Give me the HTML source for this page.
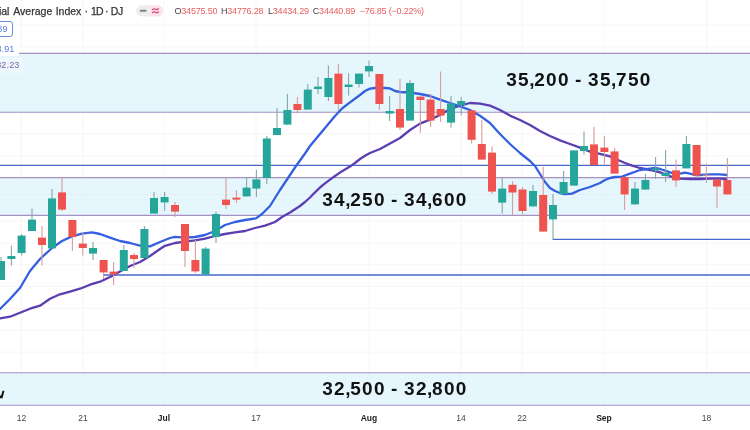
<!DOCTYPE html>
<html><head><meta charset="utf-8"><title>chart</title>
<style>
html,body{margin:0;padding:0;background:#fff;}
body{width:750px;height:430px;overflow:hidden;position:relative;font-family:"Liberation Sans",sans-serif;}
#c{position:absolute;left:0;top:0;width:750px;height:430px;overflow:hidden;background:#fff;}
#f{position:absolute;left:-10px;top:-10px;width:770px;height:450px;filter:blur(0.45px);}
#g{position:absolute;left:10px;top:10px;width:750px;height:430px;}
.t{position:absolute;white-space:nowrap;line-height:1;}
.w{position:absolute;top:0;}
.big{font-weight:bold;font-size:19px;color:#111;}
.big span{display:inline-block;text-align:center;}
.big .d{width:11.85px;} .big .cm{width:4.4px;} .big .ds{width:18.3px;}
.ax{font-size:8.5px;color:#444;transform:translateX(-50%);top:414px;}
.axb{font-weight:bold;color:#222;}
.hd{font-size:9px;top:6.5px;color:#e8605f;letter-spacing:-0.2px;}
.hd b{font-weight:normal;color:#444;}
</style></head><body><div id="c"><div id="f"><div id="g">
<svg width="750" height="430" viewBox="0 0 750 430" style="position:absolute;left:0;top:0;overflow:visible">
<line x1="-10" x2="760" y1="25.0" y2="25.0" stroke="#f5f6f8" stroke-width="1"/>
<line x1="-10" x2="760" y1="46.8" y2="46.8" stroke="#f5f6f8" stroke-width="1"/>
<line x1="-10" x2="760" y1="68.6" y2="68.6" stroke="#f5f6f8" stroke-width="1"/>
<line x1="-10" x2="760" y1="90.4" y2="90.4" stroke="#f5f6f8" stroke-width="1"/>
<line x1="-10" x2="760" y1="112.2" y2="112.2" stroke="#f5f6f8" stroke-width="1"/>
<line x1="-10" x2="760" y1="134.0" y2="134.0" stroke="#f5f6f8" stroke-width="1"/>
<line x1="-10" x2="760" y1="155.8" y2="155.8" stroke="#f5f6f8" stroke-width="1"/>
<line x1="-10" x2="760" y1="177.6" y2="177.6" stroke="#f5f6f8" stroke-width="1"/>
<line x1="-10" x2="760" y1="199.4" y2="199.4" stroke="#f5f6f8" stroke-width="1"/>
<line x1="-10" x2="760" y1="221.2" y2="221.2" stroke="#f5f6f8" stroke-width="1"/>
<line x1="-10" x2="760" y1="243.0" y2="243.0" stroke="#f5f6f8" stroke-width="1"/>
<line x1="-10" x2="760" y1="264.8" y2="264.8" stroke="#f5f6f8" stroke-width="1"/>
<line x1="-10" x2="760" y1="286.6" y2="286.6" stroke="#f5f6f8" stroke-width="1"/>
<line x1="-10" x2="760" y1="308.4" y2="308.4" stroke="#f5f6f8" stroke-width="1"/>
<line x1="-10" x2="760" y1="330.2" y2="330.2" stroke="#f5f6f8" stroke-width="1"/>
<line x1="-10" x2="760" y1="352.0" y2="352.0" stroke="#f5f6f8" stroke-width="1"/>
<line x1="-10" x2="760" y1="373.8" y2="373.8" stroke="#f5f6f8" stroke-width="1"/>
<line x1="-10" x2="760" y1="395.6" y2="395.6" stroke="#f5f6f8" stroke-width="1"/>
<line x1="21.5" x2="21.5" y1="0" y2="408" stroke="#f5f6f8" stroke-width="1"/>
<line x1="83" x2="83" y1="0" y2="408" stroke="#f5f6f8" stroke-width="1"/>
<line x1="164" x2="164" y1="0" y2="408" stroke="#f5f6f8" stroke-width="1"/>
<line x1="256" x2="256" y1="0" y2="408" stroke="#f5f6f8" stroke-width="1"/>
<line x1="369" x2="369" y1="0" y2="408" stroke="#f5f6f8" stroke-width="1"/>
<line x1="461" x2="461" y1="0" y2="408" stroke="#f5f6f8" stroke-width="1"/>
<line x1="522" x2="522" y1="0" y2="408" stroke="#f5f6f8" stroke-width="1"/>
<line x1="604" x2="604" y1="0" y2="408" stroke="#f5f6f8" stroke-width="1"/>
<line x1="706.5" x2="706.5" y1="0" y2="408" stroke="#f5f6f8" stroke-width="1"/>
<rect x="-10" y="53.4" width="770" height="58.9" fill="#e2f6fc" fill-opacity="0.9"/>
<rect x="-10" y="177.6" width="770" height="37.80000000000001" fill="#e2f6fc" fill-opacity="0.9"/>
<rect x="-10" y="372.8" width="770" height="32.39999999999998" fill="#e2f6fc" fill-opacity="0.9"/>
<line x1="-10" x2="760" y1="53.4" y2="53.4" stroke="#a791c4" stroke-width="1.1"/>
<line x1="-10" x2="760" y1="112.3" y2="112.3" stroke="#a791c4" stroke-width="1.1"/>
<line x1="-10" x2="760" y1="177.6" y2="177.6" stroke="#a791c4" stroke-width="1.1"/>
<line x1="-10" x2="760" y1="215.4" y2="215.4" stroke="#a791c4" stroke-width="1.1"/>
<line x1="-10" x2="760" y1="372.8" y2="372.8" stroke="#a791c4" stroke-width="1.1"/>
<line x1="-10" x2="760" y1="405.2" y2="405.2" stroke="#a791c4" stroke-width="1.1"/>
<line x1="-10" x2="760" y1="194.4" y2="194.4" stroke="#e4d3d6" stroke-width="0.7" stroke-dasharray="1 1.5"/>
<line x1="-10" x2="760" y1="165.4" y2="165.4" stroke="#4767cc" stroke-width="1.3"/>
<line x1="103" x2="760" y1="275" y2="275" stroke="#4767cc" stroke-width="1.3"/>
<path d="M552.6,239.4 L760,239.4" fill="none" stroke="#4767cc" stroke-width="1.3"/>
<path d="M0.0,318.3 L10.0,316.7 L20.0,312.7 L30.0,308.7 L40.0,305.7 L50.0,298.7 L60.0,294.3 L70.0,291.7 L80.0,288.7 L90.0,284.7 L100.0,281.7 L110.0,277.0 L120.0,271.6 L130.0,266.0 L140.0,262.0 L150.0,256.0 L160.0,249.0 L165.0,245.8 L175.0,243.0 L185.0,241.6 L195.0,240.4 L205.0,238.6 L215.0,236.0 L225.0,234.0 L235.0,232.4 L245.0,231.0 L255.0,228.0 L265.0,225.6 L275.0,222.0 L282.0,217.0 L290.0,212.5 L300.0,206.0 L305.0,202.0 L310.0,197.5 L315.0,192.3 L320.0,187.5 L325.0,183.4 L330.0,179.6 L335.0,176.0 L340.0,172.6 L345.0,169.6 L350.0,166.6 L355.0,163.0 L360.0,159.0 L365.0,155.8 L370.0,153.0 L380.0,149.0 L390.0,143.5 L400.0,138.0 L410.0,130.0 L420.0,123.6 L430.0,119.6 L440.0,115.0 L450.0,109.0 L460.0,105.6 L470.0,103.0 L480.0,103.6 L490.0,105.6 L500.0,110.0 L510.0,115.6 L520.0,120.0 L530.0,125.0 L540.0,131.0 L550.0,136.0 L560.0,140.4 L570.0,144.0 L580.0,147.6 L590.0,151.6 L600.0,153.8 L610.0,156.4 L618.0,160.0 L625.0,163.0 L632.0,165.6 L640.0,168.0 L650.0,170.0 L660.0,172.4 L670.0,176.0 L675.0,178.0 L680.0,178.6 L690.0,179.0 L700.0,179.0 L710.0,178.6 L720.0,178.6 L727.0,179.0" fill="none" stroke="#5c3db2" stroke-width="2.3" stroke-linejoin="round" stroke-linecap="round"/>
<path d="M0.0,309.0 L10.0,299.0 L20.0,288.0 L30.0,271.0 L40.0,259.0 L52.0,248.0 L62.0,241.0 L72.0,236.4 L82.0,233.6 L92.0,232.4 L100.0,234.0 L110.0,237.6 L120.0,241.0 L130.0,243.0 L140.0,245.6 L150.0,246.4 L160.0,242.0 L170.0,238.0 L175.0,236.8 L185.0,237.6 L195.0,237.0 L205.0,235.0 L215.0,231.0 L225.0,225.0 L235.0,222.0 L245.0,220.0 L256.0,218.4 L262.0,214.0 L268.0,208.0 L270.0,206.0 L275.0,198.0 L280.0,190.0 L285.0,182.5 L290.0,175.0 L296.0,166.0 L300.0,160.5 L305.0,153.5 L310.0,146.0 L315.0,140.0 L320.0,134.0 L325.0,128.0 L330.0,122.0 L335.0,116.0 L342.0,108.5 L350.0,102.4 L360.0,95.0 L365.0,91.0 L370.0,88.6 L375.0,88.0 L385.0,88.0 L390.0,88.4 L395.0,91.0 L400.0,92.0 L410.0,92.5 L420.0,94.0 L430.0,96.0 L440.0,99.6 L450.0,103.0 L460.0,106.4 L470.0,110.0 L480.0,115.8 L490.0,123.0 L500.0,134.0 L510.0,144.0 L520.0,153.0 L530.0,161.0 L535.0,166.0 L540.0,174.0 L545.0,182.0 L550.0,188.0 L555.0,191.0 L560.0,193.0 L565.0,194.0 L572.0,193.6 L580.0,190.0 L590.0,187.0 L600.0,183.0 L605.0,180.0 L610.0,178.0 L615.0,177.0 L622.0,176.6 L630.0,173.6 L640.0,170.0 L650.0,168.6 L655.0,168.0 L660.0,169.0 L665.0,170.6 L670.0,172.4 L675.0,173.6 L680.0,173.6 L685.0,172.6 L690.0,173.6 L695.0,175.0 L700.0,175.0 L710.0,174.4 L720.0,174.4 L727.0,175.0" fill="none" stroke="#3460e0" stroke-width="2.3" stroke-linejoin="round" stroke-linecap="round"/>
<line x1="1" x2="1" y1="257" y2="280" stroke="#84a8a5" stroke-width="1.1"/>
<rect x="-3.0" y="261" width="8.0" height="19.0" fill="#26a69a"/>
<line x1="11.4" x2="11.4" y1="245.6" y2="265.6" stroke="#84a8a5" stroke-width="1.1"/>
<rect x="7.4" y="256" width="8.0" height="3.0" fill="#26a69a"/>
<line x1="21.6" x2="21.6" y1="234" y2="255.6" stroke="#84a8a5" stroke-width="1.1"/>
<rect x="17.6" y="235.6" width="8.0" height="17.4" fill="#26a69a"/>
<line x1="32" x2="32" y1="208.4" y2="231" stroke="#84a8a5" stroke-width="1.1"/>
<rect x="28.0" y="219.6" width="8.0" height="11.4" fill="#26a69a"/>
<line x1="42" x2="42" y1="226" y2="265.6" stroke="#d99c9b" stroke-width="1.1"/>
<rect x="38.0" y="237.6" width="8.0" height="7.4" fill="#ef5350"/>
<line x1="52" x2="52" y1="189" y2="248.4" stroke="#84a8a5" stroke-width="1.1"/>
<rect x="48.0" y="198.4" width="8.0" height="50.0" fill="#26a69a"/>
<line x1="62" x2="62" y1="177.6" y2="211" stroke="#d99c9b" stroke-width="1.1"/>
<rect x="58.0" y="192.4" width="8.0" height="17.2" fill="#ef5350"/>
<line x1="72.4" x2="72.4" y1="220" y2="251" stroke="#d99c9b" stroke-width="1.1"/>
<rect x="68.4" y="220" width="8.0" height="17.0" fill="#ef5350"/>
<line x1="82.8" x2="82.8" y1="232" y2="255.6" stroke="#d99c9b" stroke-width="1.1"/>
<rect x="78.8" y="243.6" width="8.0" height="4.4" fill="#ef5350"/>
<line x1="93" x2="93" y1="242" y2="260" stroke="#84a8a5" stroke-width="1.1"/>
<rect x="89.0" y="248" width="8.0" height="5.6" fill="#26a69a"/>
<line x1="103.6" x2="103.6" y1="260" y2="279" stroke="#d99c9b" stroke-width="1.1"/>
<rect x="99.6" y="260" width="8.0" height="12.4" fill="#ef5350"/>
<line x1="113.6" x2="113.6" y1="262" y2="285" stroke="#d99c9b" stroke-width="1.1"/>
<rect x="109.6" y="271.6" width="8.0" height="2.8" fill="#ef5350"/>
<line x1="123.8" x2="123.8" y1="245" y2="271" stroke="#84a8a5" stroke-width="1.1"/>
<rect x="119.8" y="250" width="8.0" height="21.0" fill="#26a69a"/>
<line x1="134" x2="134" y1="253" y2="268" stroke="#d99c9b" stroke-width="1.1"/>
<rect x="130.0" y="255" width="8.0" height="4.0" fill="#ef5350"/>
<line x1="144.4" x2="144.4" y1="226" y2="258" stroke="#84a8a5" stroke-width="1.1"/>
<rect x="140.4" y="229" width="8.0" height="29.0" fill="#26a69a"/>
<line x1="154" x2="154" y1="192" y2="213.6" stroke="#84a8a5" stroke-width="1.1"/>
<rect x="150.0" y="198" width="8.0" height="15.6" fill="#26a69a"/>
<line x1="164.6" x2="164.6" y1="192" y2="211" stroke="#84a8a5" stroke-width="1.1"/>
<rect x="160.6" y="197" width="8.0" height="5.4" fill="#26a69a"/>
<line x1="175" x2="175" y1="202" y2="217" stroke="#d99c9b" stroke-width="1.1"/>
<rect x="171.0" y="205" width="8.0" height="6.6" fill="#ef5350"/>
<line x1="185" x2="185" y1="224" y2="267" stroke="#d99c9b" stroke-width="1.1"/>
<rect x="181.0" y="224" width="8.0" height="27.0" fill="#ef5350"/>
<line x1="195.4" x2="195.4" y1="240" y2="273" stroke="#d99c9b" stroke-width="1.1"/>
<rect x="191.4" y="260" width="8.0" height="11.4" fill="#ef5350"/>
<line x1="205.6" x2="205.6" y1="247" y2="274.4" stroke="#84a8a5" stroke-width="1.1"/>
<rect x="201.6" y="248.6" width="8.0" height="25.8" fill="#26a69a"/>
<line x1="216" x2="216" y1="211.6" y2="243" stroke="#84a8a5" stroke-width="1.1"/>
<rect x="212.0" y="214" width="8.0" height="23.0" fill="#26a69a"/>
<line x1="226" x2="226" y1="178" y2="209" stroke="#d99c9b" stroke-width="1.1"/>
<rect x="222.0" y="199.6" width="8.0" height="5.4" fill="#ef5350"/>
<line x1="236.4" x2="236.4" y1="190" y2="203" stroke="#d99c9b" stroke-width="1.1"/>
<rect x="232.4" y="197.6" width="8.0" height="2.0" fill="#ef5350"/>
<line x1="246.6" x2="246.6" y1="177.6" y2="196.4" stroke="#84a8a5" stroke-width="1.1"/>
<rect x="242.6" y="187.6" width="8.0" height="8.8" fill="#26a69a"/>
<line x1="256.4" x2="256.4" y1="170" y2="197" stroke="#84a8a5" stroke-width="1.1"/>
<rect x="252.4" y="179.4" width="8.0" height="9.2" fill="#26a69a"/>
<line x1="266.8" x2="266.8" y1="136" y2="184" stroke="#84a8a5" stroke-width="1.1"/>
<rect x="262.8" y="138.5" width="8.0" height="39.5" fill="#26a69a"/>
<line x1="277" x2="277" y1="108" y2="135" stroke="#84a8a5" stroke-width="1.1"/>
<rect x="273.0" y="128" width="8.0" height="7.0" fill="#26a69a"/>
<line x1="287.4" x2="287.4" y1="94" y2="124.6" stroke="#84a8a5" stroke-width="1.1"/>
<rect x="283.4" y="110" width="8.0" height="14.6" fill="#26a69a"/>
<line x1="297.4" x2="297.4" y1="97" y2="113.6" stroke="#d99c9b" stroke-width="1.1"/>
<rect x="293.4" y="104" width="8.0" height="6.0" fill="#ef5350"/>
<line x1="307.8" x2="307.8" y1="84" y2="109.6" stroke="#84a8a5" stroke-width="1.1"/>
<rect x="303.8" y="89.6" width="8.0" height="20.0" fill="#26a69a"/>
<line x1="318" x2="318" y1="77" y2="94" stroke="#84a8a5" stroke-width="1.1"/>
<rect x="314.0" y="86.6" width="8.0" height="2.4" fill="#26a69a"/>
<line x1="328.4" x2="328.4" y1="65.6" y2="101" stroke="#84a8a5" stroke-width="1.1"/>
<rect x="324.4" y="78" width="8.0" height="19.0" fill="#26a69a"/>
<line x1="338.4" x2="338.4" y1="64" y2="111" stroke="#d99c9b" stroke-width="1.1"/>
<rect x="334.4" y="73.6" width="8.0" height="30.4" fill="#ef5350"/>
<line x1="348.6" x2="348.6" y1="73" y2="95.6" stroke="#84a8a5" stroke-width="1.1"/>
<rect x="344.6" y="84.6" width="8.0" height="2.4" fill="#26a69a"/>
<line x1="359" x2="359" y1="73.6" y2="87.6" stroke="#84a8a5" stroke-width="1.1"/>
<rect x="355.0" y="73.6" width="8.0" height="10.4" fill="#26a69a"/>
<line x1="369" x2="369" y1="60.4" y2="77" stroke="#84a8a5" stroke-width="1.1"/>
<rect x="365.0" y="66" width="8.0" height="5.4" fill="#26a69a"/>
<line x1="379.4" x2="379.4" y1="74" y2="110" stroke="#d99c9b" stroke-width="1.1"/>
<rect x="375.4" y="74" width="8.0" height="30.0" fill="#ef5350"/>
<line x1="389.6" x2="389.6" y1="96" y2="121" stroke="#84a8a5" stroke-width="1.1"/>
<rect x="385.6" y="111" width="8.0" height="2.6" fill="#26a69a"/>
<line x1="400" x2="400" y1="79" y2="130" stroke="#d99c9b" stroke-width="1.1"/>
<rect x="396.0" y="109" width="8.0" height="18.6" fill="#ef5350"/>
<line x1="410" x2="410" y1="80" y2="120.6" stroke="#84a8a5" stroke-width="1.1"/>
<rect x="406.0" y="83" width="8.0" height="37.6" fill="#26a69a"/>
<line x1="420.4" x2="420.4" y1="96.6" y2="133" stroke="#d99c9b" stroke-width="1.1"/>
<rect x="416.4" y="96.6" width="8.0" height="3.4" fill="#ef5350"/>
<line x1="430.6" x2="430.6" y1="94" y2="127" stroke="#d99c9b" stroke-width="1.1"/>
<rect x="426.6" y="99.6" width="8.0" height="21.0" fill="#ef5350"/>
<line x1="440.6" x2="440.6" y1="71.6" y2="122" stroke="#d99c9b" stroke-width="1.1"/>
<rect x="436.6" y="109" width="8.0" height="6.6" fill="#ef5350"/>
<line x1="451" x2="451" y1="96" y2="127.6" stroke="#84a8a5" stroke-width="1.1"/>
<rect x="447.0" y="103.6" width="8.0" height="19.0" fill="#26a69a"/>
<line x1="461.2" x2="461.2" y1="97" y2="115.6" stroke="#84a8a5" stroke-width="1.1"/>
<rect x="457.2" y="101" width="8.0" height="4.0" fill="#26a69a"/>
<line x1="471.6" x2="471.6" y1="110.4" y2="143.5" stroke="#d99c9b" stroke-width="1.1"/>
<rect x="467.6" y="110.4" width="8.0" height="29.4" fill="#ef5350"/>
<line x1="481.8" x2="481.8" y1="120" y2="159.6" stroke="#d99c9b" stroke-width="1.1"/>
<rect x="477.8" y="144" width="8.0" height="15.6" fill="#ef5350"/>
<line x1="492" x2="492" y1="146.5" y2="194" stroke="#d99c9b" stroke-width="1.1"/>
<rect x="488.0" y="152.6" width="8.0" height="39.0" fill="#ef5350"/>
<line x1="502.2" x2="502.2" y1="178" y2="213.4" stroke="#84a8a5" stroke-width="1.1"/>
<rect x="498.2" y="188.6" width="8.0" height="14.0" fill="#26a69a"/>
<line x1="512.5" x2="512.5" y1="181" y2="215" stroke="#d99c9b" stroke-width="1.1"/>
<rect x="508.5" y="184.8" width="8.0" height="7.7" fill="#ef5350"/>
<line x1="522.5" x2="522.5" y1="187" y2="214.4" stroke="#d99c9b" stroke-width="1.1"/>
<rect x="518.5" y="189.5" width="8.0" height="21.5" fill="#ef5350"/>
<line x1="533" x2="533" y1="185" y2="206.4" stroke="#84a8a5" stroke-width="1.1"/>
<rect x="529.0" y="191" width="8.0" height="15.4" fill="#26a69a"/>
<line x1="543.2" x2="543.2" y1="167" y2="231.6" stroke="#d99c9b" stroke-width="1.1"/>
<rect x="539.2" y="195" width="8.0" height="36.6" fill="#ef5350"/>
<line x1="553" x2="553" y1="194" y2="239.4" stroke="#84a8a5" stroke-width="1.1"/>
<rect x="549.0" y="205" width="8.0" height="14.4" fill="#26a69a"/>
<line x1="563.6" x2="563.6" y1="171" y2="194" stroke="#84a8a5" stroke-width="1.1"/>
<rect x="559.6" y="182" width="8.0" height="12.0" fill="#26a69a"/>
<line x1="574" x2="574" y1="150.4" y2="185.6" stroke="#84a8a5" stroke-width="1.1"/>
<rect x="570.0" y="150.4" width="8.0" height="35.2" fill="#26a69a"/>
<line x1="584" x2="584" y1="131.6" y2="154.4" stroke="#84a8a5" stroke-width="1.1"/>
<rect x="580.0" y="146" width="8.0" height="5.0" fill="#26a69a"/>
<line x1="594" x2="594" y1="127" y2="165" stroke="#d99c9b" stroke-width="1.1"/>
<rect x="590.0" y="144.4" width="8.0" height="20.6" fill="#ef5350"/>
<line x1="604.4" x2="604.4" y1="136" y2="164" stroke="#d99c9b" stroke-width="1.1"/>
<rect x="600.4" y="147.6" width="8.0" height="4.4" fill="#ef5350"/>
<line x1="614.6" x2="614.6" y1="148" y2="173.6" stroke="#d99c9b" stroke-width="1.1"/>
<rect x="610.6" y="151.4" width="8.0" height="22.2" fill="#ef5350"/>
<line x1="624.6" x2="624.6" y1="177" y2="210" stroke="#d99c9b" stroke-width="1.1"/>
<rect x="620.6" y="177" width="8.0" height="17.4" fill="#ef5350"/>
<line x1="635" x2="635" y1="182" y2="204.4" stroke="#84a8a5" stroke-width="1.1"/>
<rect x="631.0" y="188.6" width="8.0" height="15.8" fill="#26a69a"/>
<line x1="645.4" x2="645.4" y1="174" y2="189.6" stroke="#84a8a5" stroke-width="1.1"/>
<rect x="641.4" y="180" width="8.0" height="9.6" fill="#26a69a"/>
<line x1="655.6" x2="655.6" y1="157" y2="179" stroke="#84a8a5" stroke-width="1.1"/>
<rect x="651.6" y="168.5" width="8.0" height="2.0" fill="#26a69a"/>
<line x1="665.6" x2="665.6" y1="150" y2="182" stroke="#84a8a5" stroke-width="1.1"/>
<rect x="661.6" y="173" width="8.0" height="3.0" fill="#26a69a"/>
<line x1="676" x2="676" y1="159.6" y2="187" stroke="#d99c9b" stroke-width="1.1"/>
<rect x="672.0" y="170.4" width="8.0" height="10.0" fill="#ef5350"/>
<line x1="686.4" x2="686.4" y1="136" y2="168.4" stroke="#84a8a5" stroke-width="1.1"/>
<rect x="682.4" y="144" width="8.0" height="24.4" fill="#26a69a"/>
<line x1="696.6" x2="696.6" y1="145" y2="178" stroke="#d99c9b" stroke-width="1.1"/>
<rect x="692.6" y="145" width="8.0" height="30.6" fill="#ef5350"/>
<line x1="706.4" x2="706.4" y1="163.6" y2="183" stroke="#d99c9b" stroke-width="1.1"/>
<rect x="702.4" y="174.8" width="8.0" height="1.0" fill="#c99"/>
<line x1="717" x2="717" y1="179.6" y2="208" stroke="#d99c9b" stroke-width="1.1"/>
<rect x="713.0" y="179.6" width="8.0" height="6.9" fill="#ef5350"/>
<line x1="727.4" x2="727.4" y1="158" y2="194.4" stroke="#d99c9b" stroke-width="1.1"/>
<rect x="723.4" y="180" width="8.0" height="14.4" fill="#ef5350"/>
</svg>
<div id="ttl" style="position:absolute;left:0;top:6px;height:11px;font-size:10.5px;color:#333;-webkit-text-stroke:0.25px #333;line-height:1;white-space:nowrap;">
<span class="w" style="left:-1.1px;" id="w1">ial</span>
<span class="w" style="left:13.3px;" id="w2">Average</span>
<span class="w" style="left:55.7px;" id="w3">Index</span>
<span class="w" style="left:84.6px;" id="w4">·</span>
<span class="w" style="left:91px;letter-spacing:-0.9px;" id="w5">1D</span>
<span class="w" style="left:105.1px;" id="w6">·</span>
<span class="w" style="left:110.8px;letter-spacing:-0.5px;" id="w7">DJ</span>
</div>
<svg width="30" height="14" viewBox="0 0 30 14" style="position:absolute;left:135.2px;top:3.5px">
<path d="M6.8,1.2 H14.7 V12.4 H6.8 A5.6,5.6 0 0 1 6.8,1.2 Z" fill="#eeeef1"/>
<path d="M14.7,1.2 H22.6 A5.6,5.6 0 0 1 22.6,12.4 H14.7 Z" fill="#fce1e9"/>
<rect x="4.8" y="5.7" width="6.7" height="2" rx="0.8" fill="#7e7e84"/>
<path d="M17.6,5.5 q1.5,-1.1 2.9,-0.3 t2.9,-0.4" fill="none" stroke="#d9477a" stroke-width="1.3" stroke-linecap="round"/>
<path d="M17.6,8.6 q1.5,-1.1 2.9,-0.3 t2.9,-0.4" fill="none" stroke="#d9477a" stroke-width="1.3" stroke-linecap="round"/>
</svg>
<div class="t hd" style="left:174.5px;" id="ho"><b>O</b>34575.50</div>
<div class="t hd" style="left:221px;" id="hh"><b>H</b>34776.28</div>
<div class="t hd" style="left:268px;" id="hl"><b>L</b>34434.29</div>
<div class="t hd" style="left:312.8px;" id="hc"><b>C</b>34440.89</div>
<div class="t hd" style="left:359.8px;" id="hch">−76.85 (−0.22%)</div>

<div style="position:absolute;left:-6px;top:21px;width:18.5px;height:16px;border:1px solid #6b8fe0;border-radius:3px;background:#fff;box-sizing:border-box;"></div>
<div class="t" style="left:-2.8px;top:25px;font-size:9px;color:#4f7be0;letter-spacing:0.3px;">89</div>
<div style="position:absolute;left:0;top:42px;width:19px;height:14px;background:#fff;"></div>
<div class="t" style="left:-3.6px;top:45px;font-size:9px;color:#4f7be0;letter-spacing:0.15px;">8.91</div>
<div style="position:absolute;left:0;top:58px;width:23px;height:15px;background:#eef9fd;"></div>
<div class="t" style="left:-3.8px;top:61px;font-size:9px;color:#7d62a8;letter-spacing:0.15px;">82.23</div>

<div class="t big" style="left:505.5px;top:70.2px;" id="b1"><span class="d">3</span><span class="d">5</span><span class="cm">,</span><span class="d">2</span><span class="d">0</span><span class="d">0</span><span class="ds">-</span><span class="d">3</span><span class="d">5</span><span class="cm">,</span><span class="d">7</span><span class="d">5</span><span class="d">0</span></div>
<div class="t big" style="left:321.5px;top:189.5px;" id="b2"><span class="d">3</span><span class="d">4</span><span class="cm">,</span><span class="d">2</span><span class="d">5</span><span class="d">0</span><span class="ds">-</span><span class="d">3</span><span class="d">4</span><span class="cm">,</span><span class="d">6</span><span class="d">0</span><span class="d">0</span></div>
<div class="t big" style="left:321.5px;top:379px;" id="b3"><span class="d">3</span><span class="d">2</span><span class="cm">,</span><span class="d">5</span><span class="d">0</span><span class="d">0</span><span class="ds">-</span><span class="d">3</span><span class="d">2</span><span class="cm">,</span><span class="d">8</span><span class="d">0</span><span class="d">0</span></div>

<svg width="8" height="12" style="position:absolute;left:0;top:388px" viewBox="0 0 8 12"><path d="M4.5,2.7 L2.5,2.7 L1.1,7.4 L0,7.4 L0,10.3 L2.5,10.3 Z" fill="#151515"/></svg>

<div class="t ax" style="left:21.5px;">12</div>
<div class="t ax" style="left:83px;">21</div>
<div class="t ax axb" style="left:164px;">Jul</div>
<div class="t ax" style="left:256px;">17</div>
<div class="t ax axb" style="left:369px;">Aug</div>
<div class="t ax" style="left:461px;">14</div>
<div class="t ax" style="left:522px;">22</div>
<div class="t ax axb" style="left:604px;">Sep</div>
<div class="t ax" style="left:706.5px;">18</div>
</div></div></div></body></html>
